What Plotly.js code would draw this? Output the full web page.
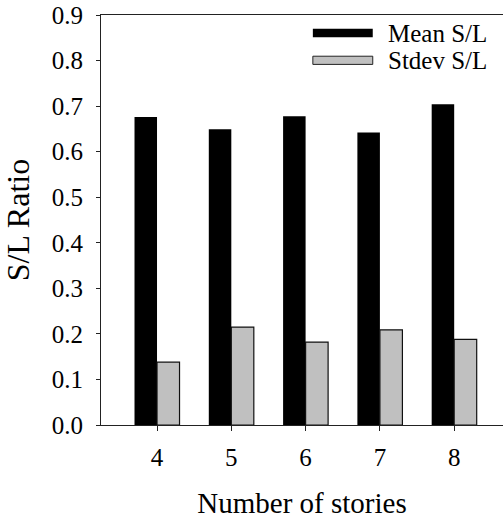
<!DOCTYPE html>
<html>
<head>
<meta charset="utf-8">
<script src="https://cdn.plot.ly/plotly-3.0.1.min.js"></script>
<style>
  html, body { margin: 0; padding: 0; background: #fff; }
  #chart { width: 503px; height: 520px; }
</style>
</head>
<body>
<div id="chart"></div>
<script>
// Number of stories on the x axis
const stories = [4, 5, 6, 7, 8];
// S/L ratio statistics per building height
const meanSL = [0.676, 0.649, 0.678, 0.642, 0.704];
const stdevSL = [0.138, 0.215, 0.182, 0.209, 0.188];
const seriesNames = ['Mean S/L', 'Stdev S/L'];
const yTicks = [0, 0.1, 0.2, 0.3, 0.4, 0.5, 0.6, 0.7, 0.8, 0.9];

const FONT = 'Liberation Serif';
const MEAN_COLOR = '#000000';
const STDEV_COLOR = '#c0c0c0';

const traces = [
  {
    type: 'bar', name: seriesNames[0], x: stories, y: meanSL,
    marker: { color: MEAN_COLOR, line: { color: '#000', width: 0 } },
    hoverinfo: 'x+y'
  },
  {
    type: 'bar', name: seriesNames[1], x: stories, y: stdevSL,
    marker: { color: STDEV_COLOR, line: { color: '#111', width: 1.2 } },
    hoverinfo: 'x+y'
  }
];

// Hand-built legend: long flat swatches with labels to their right
const legendRows = [
  { y0: 0.9665, y1: 0.9455, fill: MEAN_COLOR, line: 0 },
  { y0: 0.8995, y1: 0.8795, fill: STDEV_COLOR, line: 1 }
];
const shapes = legendRows.map(r => ({
  type: 'rect', xref: 'paper', yref: 'paper',
  x0: 0.527, x1: 0.676, y0: r.y1, y1: r.y0,
  fillcolor: r.fill, line: { color: '#222', width: r.line }
}));
const annotations = seriesNames.map((n, i) => ({
  xref: 'paper', yref: 'paper', x: 0.709,
  y: (legendRows[i].y0 + legendRows[i].y1) / 2,
  xanchor: 'left', yanchor: 'middle', showarrow: false,
  text: n, font: { family: FONT, size: 25, color: '#000' }
}));

const layout = {
  width: 503, height: 520,
  margin: { l: 101, r: 0, t: 15, b: 95 },
  paper_bgcolor: '#fff', plot_bgcolor: '#fff',
  font: { family: FONT, color: '#000' },
  showlegend: false,
  barmode: 'group', bargap: 0.394, bargroupgap: 0,
  xaxis: {
    range: [3.246, 8.657],
    tickvals: stories, ticktext: stories.map(String),
    ticks: 'outside', ticklen: 5, tickwidth: 1, tickcolor: '#222',
    showline: true, linecolor: '#222', linewidth: 1, mirror: true,
    showgrid: false, zeroline: false,
    tickfont: { family: FONT, size: 25, color: '#000' },
    ticklabelstandoff: 5,
    title: { text: 'Number of stories', font: { family: FONT, size: 29, color: '#000' }, standoff: 22 }
  },
  yaxis: {
    range: [0, 0.9],
    tickvals: yTicks, ticktext: yTicks.map(v => v.toFixed(1)),
    ticks: 'outside', ticklen: 4, tickwidth: 1, tickcolor: '#222',
    showline: true, linecolor: '#222', linewidth: 1, mirror: false,
    showgrid: false, zeroline: false,
    tickfont: { family: FONT, size: 25, color: '#000' },
    ticklabelstandoff: 8,
    title: { text: 'S/L Ratio', font: { family: FONT, size: 32, color: '#000' }, standoff: 14 }
  },
  shapes: shapes,
  annotations: annotations
};

Plotly.newPlot('chart', traces, layout, { displayModeBar: false, staticPlot: true });
</script>
</body>
</html>
